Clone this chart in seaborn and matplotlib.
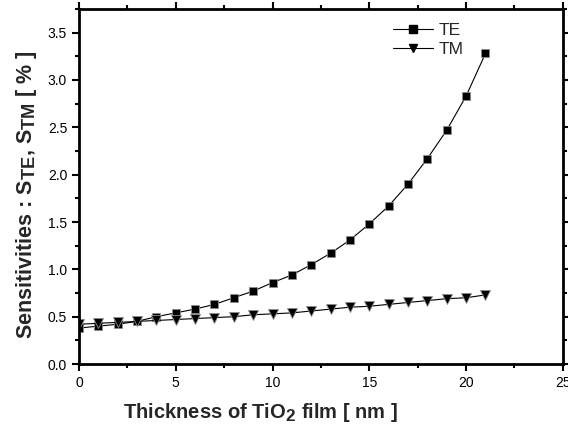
import numpy as np
import pandas as pd
import matplotlib
matplotlib.use("Agg")
import matplotlib.pyplot as plt
import matplotlib._mathtext as _mt
import seaborn as sns
from matplotlib.ticker import MultipleLocator
from matplotlib.lines import Line2D

sns.set_theme(style="ticks")
plt.rcParams["font.family"] = ["Liberation Sans", "DejaVu Sans"]
plt.rcParams["mathtext.fontset"] = "custom"
plt.rcParams["mathtext.rm"] = "Liberation Sans"
plt.rcParams["mathtext.bf"] = "Liberation Sans:bold"
# larger subscripts in the axis labels
_mt.SHRINK_FACTOR = 0.85

thickness = list(range(0, 22))
s_te = [0.38, 0.40, 0.42, 0.45, 0.50, 0.54, 0.58, 0.63, 0.70, 0.77, 0.86, 0.94,
        1.05, 1.17, 1.31, 1.48, 1.67, 1.90, 2.17, 2.47, 2.83, 3.28]
s_tm = [0.42, 0.43, 0.44, 0.45, 0.46, 0.47, 0.48, 0.49, 0.50, 0.52, 0.53, 0.54,
        0.56, 0.58, 0.60, 0.61, 0.63, 0.65, 0.67, 0.69, 0.70, 0.73]

df = pd.DataFrame({"t": thickness * 2,
                   "s": s_te + s_tm,
                   "mode": ["TE"] * len(s_te) + ["TM"] * len(s_tm)})

fig = plt.figure(figsize=(5.68, 4.28), dpi=100)
ax = fig.add_axes([0.139, 0.1495, 0.852, 0.8295])

sns.lineplot(data=df, x="t", y="s", hue="mode", style="mode",
             markers={"TE": "s", "TM": "v"}, dashes=False,
             palette={"TE": "black", "TM": "black"},
             markersize=5.5, linewidth=0.8, markeredgecolor="0.55",
             markeredgewidth=0.6, legend=False, ax=ax)

for ln, ms in zip(ax.lines, [5.6, 6.8]):
    ln.set_markersize(ms)

ax.set_xlim(0, 25)
ax.set_ylim(0, 3.75)
ax.xaxis.set_major_locator(MultipleLocator(5))
ax.xaxis.set_minor_locator(MultipleLocator(2.5))
ax.yaxis.set_major_locator(MultipleLocator(0.5))
ax.yaxis.set_minor_locator(MultipleLocator(0.25))

for sp in ax.spines.values():
    sp.set_linewidth(2)
    sp.set_color("black")

ax.tick_params(which="major", direction="out", length=5, width=1.5,
               labelsize=10, color="black", labelcolor="black")
ax.tick_params(which="minor", direction="out", length=3, width=1.5, color="black")
ax.tick_params(which="both", top=True, right=True)

ax.set_xlabel("Thickness of TiO$_\\mathbf{2}$ film [ nm ]", fontsize=14.5,
              fontweight="bold")
ax.xaxis.set_label_coords(0.376, -0.105)
ax.set_ylabel("Sensitivities : S$_\\mathbf{TE}$, S$_\\mathbf{TM}$ [ % ]", fontsize=15.5,
              fontweight="bold")
ax.yaxis.set_label_coords(-0.082, 0.476)

handles = [Line2D([], [], color="black", lw=0.8, marker="s", ms=5.2,
                  mec="black"),
           Line2D([], [], color="black", lw=0.8, marker="v", ms=6.4,
                  mec="black")]
leg = ax.legend(handles, ["TE", "TM"], loc="upper left",
                bbox_to_anchor=(0.649, 0.962), frameon=False,
                fontsize=12.5, handlelength=2.3, handletextpad=0.35,
                labelspacing=0.22, borderaxespad=0.0, borderpad=0.0)
ax.grid(False)
fig.savefig("out.png", dpi=100)
